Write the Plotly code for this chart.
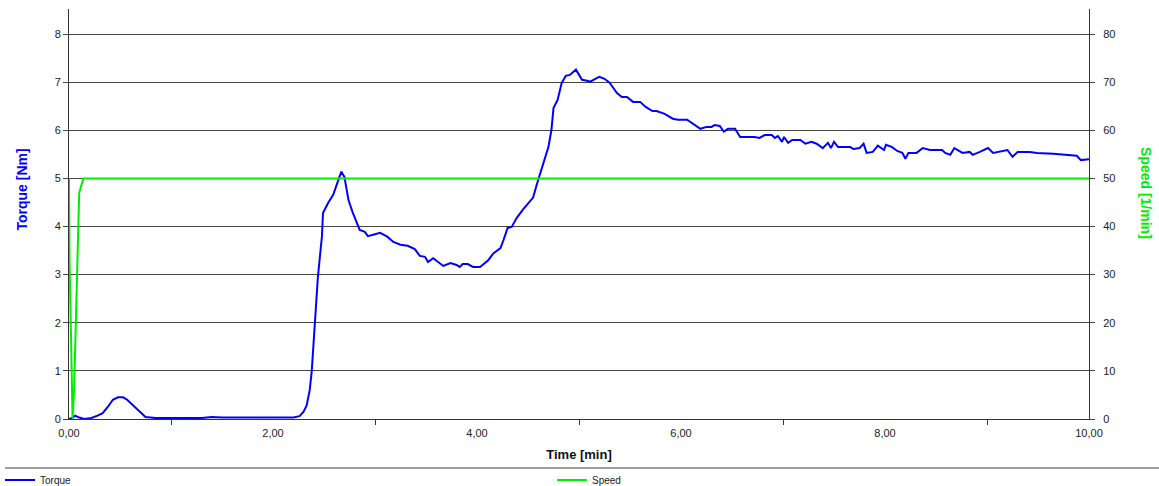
import plotly.graph_objects as go

# ---- data ----
time_torque = [0.00, 0.03, 0.06, 0.10, 0.15, 0.22, 0.28, 0.33, 0.38, 0.43, 0.48, 0.53, 0.57, 0.62, 0.68,
               0.75, 0.85, 1.00, 1.05, 1.30, 1.40, 1.50, 2.00, 2.20, 2.26, 2.30, 2.33, 2.36, 2.38, 2.41,
               2.44, 2.48, 2.49, 2.54, 2.59, 2.63, 2.67, 2.70, 2.74, 2.78, 2.85, 2.90, 2.93, 3.00, 3.05,
               3.12, 3.18, 3.25, 3.32, 3.39, 3.44, 3.49, 3.52, 3.57, 3.62, 3.67, 3.74, 3.80, 3.83, 3.86,
               3.91, 3.96, 4.03, 4.08, 4.11, 4.16, 4.23, 4.26, 4.30, 4.34, 4.39, 4.45, 4.52, 4.55, 4.59,
               4.62, 4.65, 4.70, 4.73, 4.75, 4.79, 4.83, 4.87, 4.91, 4.97, 4.99, 5.03, 5.08, 5.11, 5.16,
               5.20, 5.25, 5.30, 5.33, 5.37, 5.42, 5.47, 5.53, 5.60, 5.65, 5.72, 5.76, 5.84, 5.92, 5.97,
               6.06, 6.12, 6.19, 6.25, 6.30, 6.33, 6.38, 6.42, 6.46, 6.53, 6.58, 6.65, 6.72, 6.77, 6.82,
               6.89, 6.92, 6.95, 6.99, 7.01, 7.05, 7.09, 7.17, 7.22, 7.28, 7.33, 7.39, 7.44, 7.47, 7.50,
               7.54, 7.66, 7.69, 7.75, 7.79, 7.82, 7.88, 7.93, 7.99, 8.01, 8.07, 8.12, 8.17, 8.20, 8.23,
               8.31, 8.37, 8.44, 8.56, 8.59, 8.64, 8.68, 8.73, 8.76, 8.83, 8.86, 8.93, 9.01, 9.06, 9.11,
               9.20, 9.25, 9.30, 9.42, 9.49, 9.65, 9.78, 9.88, 9.92, 10.00]
torque = [0.00, 0.02, 0.07, 0.03, 0.00, 0.02, 0.07, 0.12, 0.25, 0.40, 0.45, 0.45, 0.40, 0.30, 0.18,
          0.04, 0.02, 0.03, 0.02, 0.02, 0.04, 0.03, 0.03, 0.03, 0.06, 0.15, 0.28, 0.60, 1.00, 2.00,
          2.95, 3.80, 4.28, 4.49, 4.66, 4.90, 5.14, 5.03, 4.55, 4.30, 3.93, 3.89, 3.80, 3.84, 3.87,
          3.79, 3.68, 3.62, 3.60, 3.53, 3.39, 3.37, 3.26, 3.34, 3.26, 3.18, 3.24, 3.20, 3.16, 3.22,
          3.22, 3.16, 3.16, 3.26, 3.30, 3.44, 3.55, 3.72, 3.97, 3.99, 4.18, 4.35, 4.51, 4.60, 4.90,
          5.11, 5.34, 5.65, 6.01, 6.46, 6.63, 6.98, 7.13, 7.15, 7.26, 7.19, 7.05, 7.03, 7.01, 7.07,
          7.11, 7.07, 6.99, 6.90, 6.78, 6.69, 6.69, 6.59, 6.59, 6.49, 6.40, 6.40, 6.34, 6.24, 6.22,
          6.22, 6.13, 6.03, 6.07, 6.07, 6.11, 6.09, 5.97, 6.03, 6.03, 5.86, 5.86, 5.86, 5.84, 5.90,
          5.90, 5.84, 5.88, 5.76, 5.86, 5.74, 5.80, 5.80, 5.72, 5.76, 5.72, 5.63, 5.74, 5.63, 5.76,
          5.65, 5.65, 5.61, 5.63, 5.72, 5.53, 5.55, 5.68, 5.59, 5.70, 5.65, 5.57, 5.53, 5.41, 5.53,
          5.53, 5.63, 5.59, 5.59, 5.53, 5.49, 5.63, 5.57, 5.53, 5.55, 5.49, 5.55, 5.63, 5.53, 5.55,
          5.59, 5.45, 5.55, 5.55, 5.53, 5.51, 5.49, 5.47, 5.38, 5.40]

time_speed = [0.000, 0.005, 0.020, 0.035, 0.050, 0.070, 0.090, 0.100, 0.140, 10.000]
speed = [50, 33, 17, 0, 6, 22, 35, 47, 50, 50]

x_tick_vals = [0, 2, 4, 6, 8, 10]
y_left_ticks = [0, 1, 2, 3, 4, 5, 6, 7, 8]
y_right_ticks = [0, 10, 20, 30, 40, 50, 60, 70, 80]

# ---- figure ----
W, H = 1159, 486
ML, MR, MT, MB = 69, 70, 9, 67
plot_w = W - ML - MR
plot_h = H - MT - MB

FONT = "Liberation Sans, Arial, sans-serif"
BLUE = "#0000FF"
GREEN = "#00EE00"

fig = go.Figure()
fig.add_trace(go.Scatter(x=time_torque, y=torque, name="Torque", mode="lines",
                         line=dict(color=BLUE, width=2), yaxis="y", legend="legend"))
fig.add_trace(go.Scatter(x=time_speed, y=speed, name="Speed", mode="lines",
                         line=dict(color=GREEN, width=2), yaxis="y2", legend="legend2"))

def px_x(p):
    return (p - ML) / plot_w

def px_y(p):
    return (H - MB - p) / plot_h

fig.update_layout(
    width=W, height=H,
    margin=dict(l=ML, r=MR, t=MT, b=MB, autoexpand=False),
    paper_bgcolor="white", plot_bgcolor="white",
    separators=",.",
    font=dict(family=FONT, size=11, color="#222"),
    xaxis=dict(
        range=[0, 10], tickvals=x_tick_vals, tickformat=".2f", ticks="",
        showgrid=False, zeroline=False, showline=True, linecolor="#333", linewidth=1,
        tickfont=dict(size=11, color="#222"), ticklabelstandoff=4,
        minor=dict(tick0=1, dtick=2, ticks="outside", ticklen=5, tickcolor="#333", showgrid=False),
        title=dict(text="<b>Time [min]</b>", font=dict(size=13, color="#111"), standoff=11),
    ),
    yaxis=dict(
        range=[0, 8.52], tickvals=y_left_ticks, ticks="outside", ticklen=5, tickcolor="#444",
        showgrid=True, gridcolor="#444", gridwidth=1, zeroline=False,
        showline=True, linecolor="#333", linewidth=1,
        tickfont=dict(size=11, color="#222"),
    ),
    yaxis2=dict(
        range=[0, 85.2], tickvals=y_right_ticks, overlaying="y", side="right",
        ticks="outside", ticklen=5, tickcolor="#444", showgrid=False, zeroline=False,
        showline=True, linecolor="#333", linewidth=1,
        tickfont=dict(size=11, color="#222"), ticklabelstandoff=6,
    ),
    legend=dict(orientation="h", x=px_x(0), y=px_y(480), xanchor="left", yanchor="middle",
                bgcolor="rgba(0,0,0,0)", font=dict(size=10, color="#222")),
    legend2=dict(orientation="h", x=px_x(552), y=px_y(480), xanchor="left", yanchor="middle",
                 bgcolor="rgba(0,0,0,0)", font=dict(size=10, color="#222")),
    showlegend=True,
)

# left axis title (reads bottom to top)
fig.add_annotation(text="<b>Torque [Nm]</b>", textangle=-90, xref="paper", yref="paper",
                   x=px_x(21.5), y=px_y(190), xanchor="center", yanchor="middle",
                   showarrow=False, font=dict(size=14, color=BLUE, family=FONT))

# right axis title (reads top to bottom)
fig.add_annotation(text="<b>Speed [1/min]</b>", textangle=90, xref="paper", yref="paper",
                   x=px_x(1145.5), y=px_y(192.5), xanchor="center", yanchor="middle",
                   showarrow=False, font=dict(size=14, color=GREEN, family=FONT))

# separator line above legend
fig.add_shape(type="line", xref="paper", yref="paper",
              x0=px_x(5), x1=px_x(1159), y0=px_y(468), y1=px_y(468),
              line=dict(color="#A0A0A0", width=2))

fig.write_html("out.html", config={"displayModeBar": False},
               post_script="document.body.style.margin='0px';")
